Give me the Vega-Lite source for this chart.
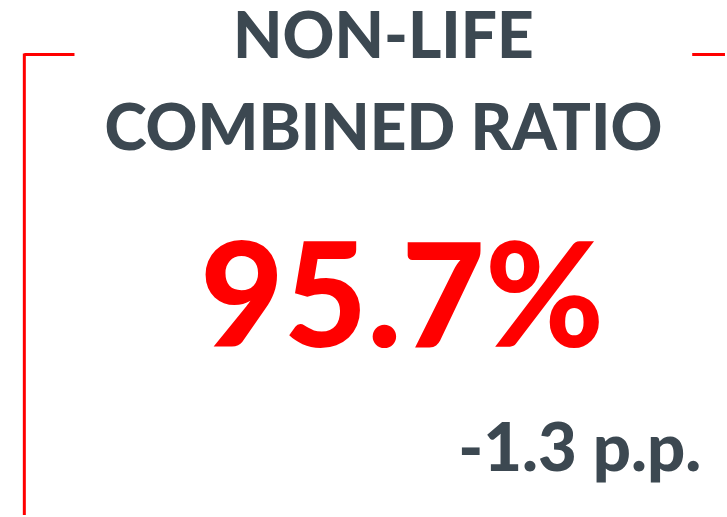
{
  "$schema": "https://vega.github.io/schema/vega-lite/v6.json",
  "width": 727,
  "height": 517,
  "autosize": {"type": "fit", "contains": "padding"},
  "padding": 0,
  "background": "white",
  "config": {"view": {"stroke": null}},
  "data": {
    "values": [
      {"role": "frame", "x": 24.5, "x2": 75, "y": 55, "y2": 55},
      {"role": "frame", "x": 24.5, "x2": 24.5, "y": 54, "y2": 520},
      {"role": "frame", "x": 697, "x2": 730, "y": 55, "y2": 55},
      {"role": "title", "text": "NON-LIFE", "x": 386, "y": 59},
      {"role": "title", "text": "COMBINED RATIO", "x": 386, "y": 151},
      {"role": "value", "text": "95.7%", "x": 405, "y": 350},
      {"role": "change", "text": "-1.3 p.p.", "x": 706, "y": 476}
    ]
  },
  "encoding": {
    "x": {"field": "x", "type": "quantitative", "scale": {"domain": [0, 727], "nice": false, "zero": false}, "axis": null},
    "y": {"field": "y", "type": "quantitative", "scale": {"domain": [0, 517], "reverse": true, "nice": false, "zero": false}, "axis": null}
  },
  "layer": [
    {
      "transform": [{"filter": "datum.role === 'frame'"}],
      "mark": {"type": "rule", "color": "#ff0000", "strokeWidth": 3, "strokeCap": "butt", "clip": false},
      "encoding": {"x2": {"field": "x2"}, "y2": {"field": "y2"}}
    },
    {
      "transform": [{"filter": "datum.role === 'title'"}],
      "mark": {"type": "text", "font": "Lato", "fontWeight": 900, "fontSize": 64, "color": "#3c4851", "align": "center", "baseline": "alphabetic"},
      "encoding": {"text": {"field": "text"}}
    },
    {
      "transform": [{"filter": "datum.role === 'value'"}],
      "mark": {"type": "text", "font": "Lato", "fontWeight": 900, "fontSize": 144, "color": "#ff0000", "align": "center", "baseline": "alphabetic"},
      "encoding": {"text": {"field": "text"}}
    },
    {
      "transform": [{"filter": "datum.role === 'change'"}],
      "mark": {"type": "text", "font": "Lato", "fontWeight": 900, "fontSize": 67, "color": "#3c4851", "align": "right", "baseline": "alphabetic"},
      "encoding": {"text": {"field": "text"}}
    }
  ]
}
